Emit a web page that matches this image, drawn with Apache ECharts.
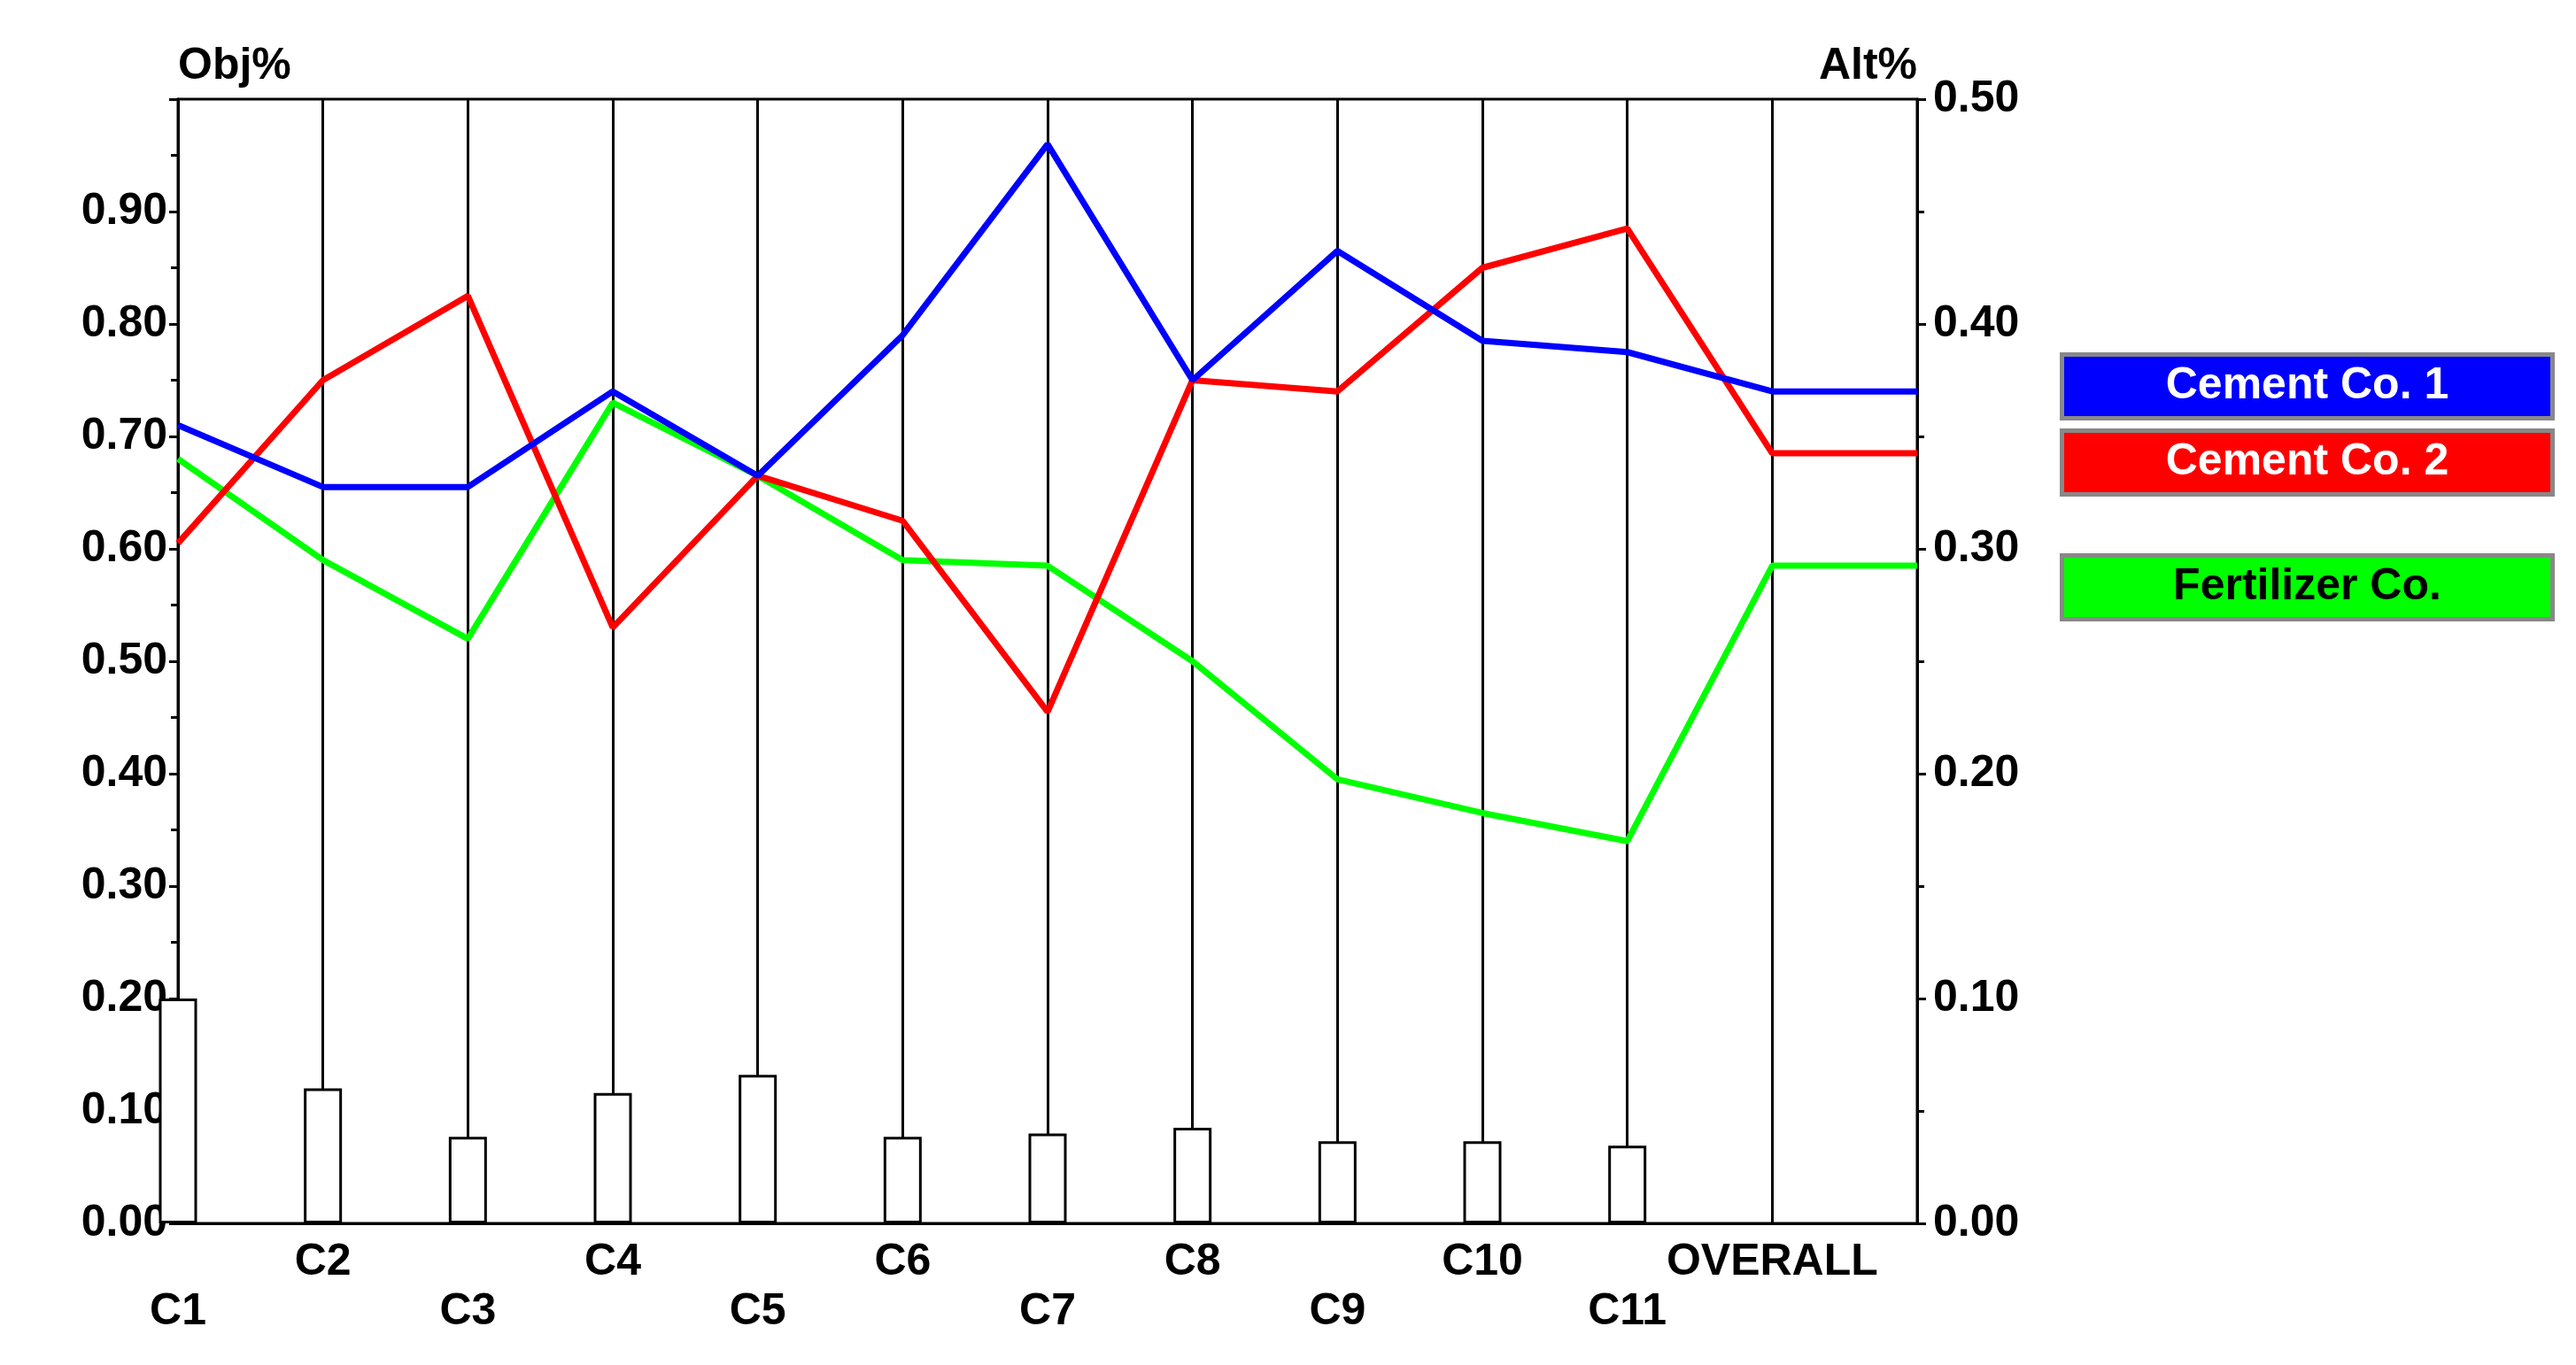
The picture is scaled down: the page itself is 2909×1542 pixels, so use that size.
<!DOCTYPE html>
<html>
<head>
<meta charset="UTF-8">
<script src="https://cdn.jsdelivr.net/npm/echarts@6/dist/echarts.min.js"></script>
<style>html,body{margin:0;background:#fff}#c{width:2909px;height:1542px}</style>
</head>
<body>
<div id="c"></div>
<script>
// categories (last empty slot carries the flat line to the right edge)
const cats = ['C1','C2','C3','C4','C5','C6','C7','C8','C9','C10','C11','OVERALL',''];
const cement1 = [0.71,0.655,0.655,0.74,0.665,0.79,0.96,0.75,0.865,0.785,0.775,0.74,0.74];
const cement2 = [0.605,0.75,0.825,0.53,0.665,0.625,0.455,0.75,0.74,0.85,0.885,0.685,0.685];
const fert = [0.68,0.59,0.52,0.73,0.665,0.59,0.585,0.50,0.395,0.365,0.34,0.585,0.585];
const weights = [0.20,0.12,0.077,0.116,0.132,0.077,0.08,0.085,0.073,0.073,0.069,null,null];

const font = 'Liberation Sans';
const chart = echarts.init(document.getElementById('c'));

function legendBox(y, color, label, txt) {
    return {
        type: 'group', left: 2326, top: y,
        children: [
            { type: 'rect', shape: { x: 0, y: 0, width: 554, height: 72 },
              style: { fill: color, stroke: '#888', lineWidth: 5 } },
            { type: 'text', x: 277, y: 36,
              style: { text: label, fill: txt, font: 'bold 50px ' + font, align: 'center', verticalAlign: 'middle' } }
        ]
    };
}

chart.setOption({
    animation: false,
    grid: { left: 201, right: 744, top: 112, bottom: 160, show: true, borderColor: '#000', borderWidth: 3 },
    xAxis: {
        type: 'category', data: cats, boundaryGap: false,
        axisLine: { lineStyle: { color: '#000', width: 3 } },
        axisTick: { show: false },
        splitLine: { show: true, lineStyle: { color: '#000', width: 3 } },
        axisLabel: {
            interval: 0, color: '#000', fontFamily: font, fontWeight: 'bold', fontSize: 50,
            lineHeight: 56, margin: 16,
            formatter: (v, i) => i % 2 === 0 ? '\n' + v : v
        }
    },
    yAxis: [{
        type: 'value', min: 0, max: 1, interval: 0.1,
        name: 'Obj%', nameLocation: 'end', nameGap: 12,
        nameTextStyle: { color: '#000', fontFamily: font, fontWeight: 'bold', fontSize: 50, align: 'left' },
        axisLine: { show: true, lineStyle: { color: '#000', width: 3 } },
        axisTick: { show: true, length: 10, lineStyle: { color: '#000', width: 3 } },
        minorTick: { show: true, splitNumber: 2, length: 8, lineStyle: { color: '#000', width: 3 } },
        splitLine: { show: false },
        axisLabel: { color: '#000', fontFamily: font, fontWeight: 'bold', fontSize: 50, margin: 12,
            formatter: v => v >= 1 ? '' : v.toFixed(2) }
    }, {
        type: 'value', min: 0, max: 0.5, interval: 0.1,
        name: 'Alt%', nameLocation: 'end', nameGap: 12,
        nameTextStyle: { color: '#000', fontFamily: font, fontWeight: 'bold', fontSize: 50, align: 'right' },
        axisLine: { show: true, lineStyle: { color: '#000', width: 3 } },
        axisTick: { show: true, length: 10, lineStyle: { color: '#000', width: 3 } },
        minorTick: { show: true, splitNumber: 2, length: 8, lineStyle: { color: '#000', width: 3 } },
        splitLine: { show: false },
        axisLabel: { color: '#000', fontFamily: font, fontWeight: 'bold', fontSize: 50, margin: 18,
            formatter: v => v.toFixed(2) }
    }],
    series: [
        { type: 'bar', data: weights, barWidth: 43, z: 1,
          itemStyle: { color: '#fff', borderColor: '#000', borderWidth: 3 } },
        { name: 'Cement Co. 1', type: 'line', data: cement1, symbol: 'none', z: 4,
          lineStyle: { color: '#0000ff', width: 7 } },
        { name: 'Cement Co. 2', type: 'line', data: cement2, symbol: 'none', z: 3,
          lineStyle: { color: '#ff0000', width: 7 } },
        { name: 'Fertilizer Co.', type: 'line', data: fert, symbol: 'none', z: 2,
          lineStyle: { color: '#00ff00', width: 7 } }
    ],
    graphic: [
        legendBox(398, '#0000ff', 'Cement Co. 1', '#fff'),
        legendBox(484, '#ff0000', 'Cement Co. 2', '#fff'),
        legendBox(625, '#00ff00', 'Fertilizer Co.', '#000')
    ]
});
</script>
</body>
</html>
